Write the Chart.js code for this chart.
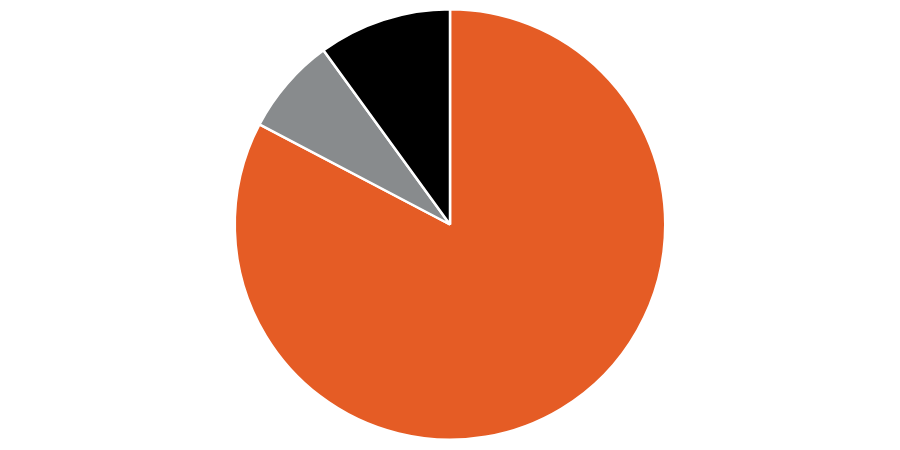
<!DOCTYPE html>
<html>
<head>
<meta charset="utf-8">
<script src="https://cdn.jsdelivr.net/npm/chart.js@4/dist/chart.umd.min.js"></script>
<style>
html,body{margin:0;padding:0;background:#fff;}
#wrap{width:900px;height:450px;}
</style>
</head>
<body>
<div id="wrap"><canvas id="c"></canvas></div>
<script>
const labels = ["A", "B", "C"];
const values = [82.7, 7.3, 10.0];
const colors = ["#E55C25", "#888B8D", "#000000"];

new Chart(document.getElementById('c'), {
  type: 'pie',
  data: {
    labels: labels,
    datasets: [{
      data: values,
      backgroundColor: colors,
      borderColor: '#ffffff',
      borderWidth: 2.5
    }]
  },
  options: {
    responsive: true,
    maintainAspectRatio: false,
    animation: false,
    layout: { padding: { top: 8, bottom: 9 } },
    plugins: { legend: { display: false }, tooltip: { enabled: false } }
  }
});
</script>
</body>
</html>
